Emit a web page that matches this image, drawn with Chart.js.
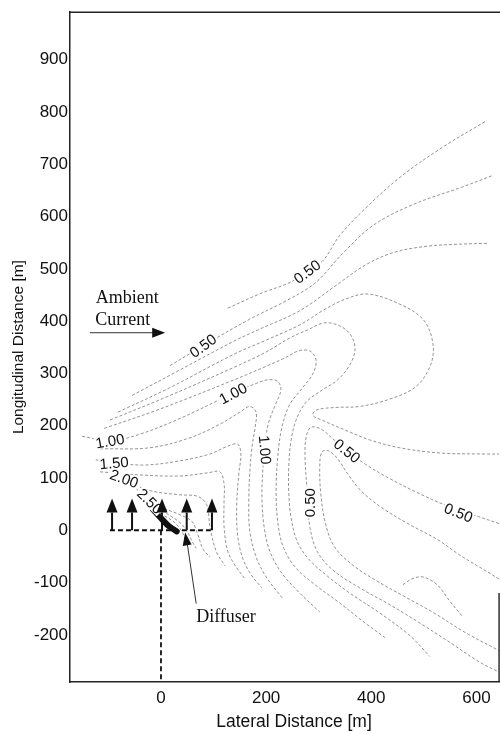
<!DOCTYPE html>
<html>
<head>
<meta charset="utf-8">
<script src="https://cdn.jsdelivr.net/npm/chart.js@4.4.0/dist/chart.umd.min.js"></script>
<style>
  html, body { margin: 0; padding: 0; background: #fff; }
  #wrap { width: 500px; height: 734px; overflow: hidden; }
</style>
</head>
<body>
<div id="wrap"><canvas id="chart" width="520" height="734"></canvas></div>
<script>
// tick labels
const xTicks = [0, 200, 400, 600];
const yTicks = [-200, -100, 0, 100, 200, 300, 400, 500, 600, 700, 800, 900];

// contour lines, [lateral m, longitudinal m]
const c01 = [[127,425],[192,454],[249,476],[306,514],[340,564],[392,619],[458,678],[536,733],[620,784]];
const c02 = [[17,315],[80,353],[169,404],[236,438],[293,473],[346,530],[403,583],[479,623],[574,657],[629,678]];
const c03 = [[-55,258],[27,302],[137,361],[188,385],[264,420],[331,467],[388,507],[441,531],[502,543],[559,547],[620,549]];
const c04 = [[-82,226],[17,273],[137,336],[198,363],[264,393],[312,423],[350,442],[392,452],[449,435],[498,404],[517,359],[513,317],[485,275],[435,251],[378,237],[331,235],[295,230],[289,220],[306,211],[350,192],[397,173],[454,158],[530,148],[620,146],[643,146]];
const c05 = [[-97,211],[8,254],[137,311],[198,340],[245,368],[278,383],[312,397],[344,389],[363,370],[369,344],[357,313],[335,287],[306,268],[276,245],[257,211],[247,169],[243,121],[243,74],[247,27],[259,-21],[281,-55],[316,-87],[359,-120],[416,-158],[473,-201],[511,-241]];
const c06 = [[-108,195],[-2,232],[137,287],[198,313],[236,330],[264,344],[285,342],[295,325],[289,300],[268,271],[245,241],[230,197],[222,140],[219,74],[222,17],[232,-30],[255,-70],[293,-104],[340,-139],[388,-177],[426,-205]];
const c07 = [[-150,180],[-97,171],[-40,184],[36,214],[137,262],[181,281],[203,288],[222,285],[228,268],[217,239],[205,207],[198,169],[194,121],[192,65],[196,8],[207,-40],[230,-82],[264,-120],[302,-156]];
const c08 = [[-116,156],[-21,158],[55,177],[112,203],[150,226],[169,237],[181,226],[179,197],[173,159],[169,112],[167,55],[169,-2],[181,-51],[200,-89],[232,-131]];
const c09 = [[-124,135],[-89,129],[-30,125],[36,133],[93,146],[127,161],[146,165],[152,146],[148,108],[144,46],[146,-11],[156,-55],[173,-87],[192,-110]];
const c10 = [[-116,112],[-40,106],[36,104],[89,110],[112,112],[120,89],[120,55],[120,8],[127,-40],[143,-70],[160,-93]];
const c11 = [[-93,104],[-63,93],[-21,76],[36,68],[70,65],[87,49],[93,8],[105,-40],[122,-68]];
const c12 = [[-48,80],[-27,63],[2,44],[36,30],[59,17],[70,-8],[80,-36],[93,-51]];
const c13 = [[-21,55],[8,34],[36,15],[51,-4],[59,-21],[67,-34]];
const c14 = [[-2,32],[21,19],[36,4],[44,-11],[48,-23]];
const h01 = [[643,13],[593,30],[544,47],[492,70],[435,99],[388,127],[354,152],[327,175],[304,194],[285,197],[276,178],[274,140],[278,74],[283,8],[297,-40],[327,-76],[378,-110],[435,-142],[492,-177],[549,-214],[606,-252],[643,-271]];
const h02 = [[643,-93],[612,-74],[568,-47],[525,-17],[473,11],[422,42],[382,74],[355,108],[336,137],[319,152],[306,150],[302,121],[304,70],[312,17],[329,-30],[363,-65],[411,-97],[464,-127],[521,-159],[578,-195],[643,-230]];
const h03 = [[460,-104],[477,-93],[498,-89],[525,-104],[549,-135],[572,-163]];
const core = [[-15,40],[-6,30],[4,19],[15,8],[30,-2]];

// contour labels: text, position, angle (deg)
const contourLabels = [
  ['0.50', 80, 353, -36], ['0.50', 278, 495, -37], ['1.00', 137, 262, -28],
  ['1.00', 198, 154, 85], ['0.50', 283, 53, -90], ['0.50', 354, 152, 39],
  ['0.50', 566, 34, 22], ['1.00', -97, 171, -10], ['1.50', -89, 129, -5],
  ['2.00', -70, 99, 20], ['2.50', -21, 56, 45]
];

// diffuser ports
const ports = [-93, -55, 2, 49, 97];
const portHeadBase = 34;
const portTip = 61;
const manifold = [[-97, 0], [99, 0]];
const outfall = [[0, 0], [0, -290]];

const toXY = pts => pts.map(([x, y]) => ({ x, y }));

const contourSets = [c01, c02, c03, c04, c05, c06, c07, c08, c09, c10, c11, c12, c13, c14, h01, h02, h03]
  .map(pts => ({
    data: toXY(pts),
    showLine: true,
    pointRadius: 0,
    borderColor: "rgba(85,85,85,0.75)",
    borderWidth: 0.85,
    borderDash: [3, 2],
    tension: 0.35,
    fill: false,
  }));

const diffuserSets = [
  { data: toXY(core), showLine: true, pointRadius: 0, borderColor: "#111", borderWidth: 6, tension: 0.3, borderCapStyle: "round" },
  { data: toXY(manifold), showLine: true, pointRadius: 0, borderColor: "#111", borderWidth: 2, borderDash: [5, 3] },
  { data: toXY(outfall), showLine: true, pointRadius: 0, borderColor: "#111", borderWidth: 1.8, borderDash: [5, 3] },
  ...ports.map(p => ({
    data: [{ x: p, y: 0 }, { x: p, y: portHeadBase }],
    showLine: true, pointRadius: 0, borderColor: "#111", borderWidth: 2,
  })),
];

function arrowHead(ctx, tx, ty, fx, fy, len, half) {
  const a = Math.atan2(ty - fy, tx - fx);
  ctx.beginPath();
  ctx.moveTo(tx, ty);
  ctx.lineTo(tx - len * Math.cos(a) + half * Math.sin(a), ty - len * Math.sin(a) - half * Math.cos(a));
  ctx.lineTo(tx - len * Math.cos(a) - half * Math.sin(a), ty - len * Math.sin(a) + half * Math.cos(a));
  ctx.closePath();
  ctx.fill();
}

const overlay = {
  id: "overlay",
  afterDatasetsDraw(chart) {
    const { ctx, chartArea } = chart;
    const sx = chart.scales.x, sy = chart.scales.y;
    const px = v => sx.getPixelForValue(v);
    const py = v => sy.getPixelForValue(v);
    ctx.save();

    // frame
    ctx.strokeStyle = "#222";
    ctx.lineWidth = 1.6;
    ctx.beginPath();
    ctx.moveTo(chartArea.left, chartArea.top);
    ctx.lineTo(chartArea.right, chartArea.top);
    ctx.stroke();
    ctx.lineWidth = 1.4;
    ctx.beginPath();
    ctx.moveTo(px(643), py(-120));
    ctx.lineTo(px(643), chartArea.bottom);
    ctx.stroke();

    // contour labels: gaps first, then text, so labels never hide each other
    ctx.font = "15px 'Liberation Sans', Arial, sans-serif";
    ctx.textAlign = "center";
    ctx.textBaseline = "middle";
    ["bg", "text"].forEach(pass => {
      contourLabels.forEach(([t, x, y, ang]) => {
        ctx.save();
        ctx.translate(px(x), py(y));
        ctx.rotate(ang * Math.PI / 180);
        if (pass === "bg") {
          const w = ctx.measureText(t).width;
          ctx.fillStyle = "#fff";
          ctx.fillRect(-w / 2 - 1, -6, w + 2, 12);
        } else {
          ctx.fillStyle = "#111";
          ctx.fillText(t, 0, 1);
        }
        ctx.restore();
      });
    });

    // diffuser port heads
    ctx.fillStyle = "#111";
    ports.forEach(p => {
      arrowHead(ctx, px(p), py(portTip), px(p), py(0), py(portHeadBase) - py(portTip), 5.5);
    });

    // ambient current arrow
    ctx.strokeStyle = "#333";
    ctx.lineWidth = 1;
    ctx.beginPath();
    ctx.moveTo(px(-135), py(378));
    ctx.lineTo(px(0), py(378));
    ctx.stroke();
    arrowHead(ctx, px(8), py(378), px(-135), py(378), 13, 5);

    // diffuser pointer
    ctx.beginPath();
    ctx.moveTo(px(67), py(-140));
    ctx.lineTo(px(48), py(-12));
    ctx.stroke();
    arrowHead(ctx, px(46), py(-4), px(67), py(-140), 13, 4.5);

    // annotations
    ctx.font = "18px 'Liberation Serif', 'Times New Roman', serif";
    ctx.textAlign = "left";
    ctx.textBaseline = "alphabetic";
    ctx.fillStyle = "#111";
    ctx.fillText("Ambient", px(-124), py(435));
    ctx.fillText("Current", px(-125), py(393));
    ctx.fillText("Diffuser", px(67), py(-175));

    ctx.restore();
  },
};

new Chart(document.getElementById("chart"), {
  type: "scatter",
  data: { datasets: [...contourSets, ...diffuserSets] },
  options: {
    responsive: false,
    animation: false,
    devicePixelRatio: 1,
    events: [],
    layout: { padding: { top: 7, left: 0, right: 2, bottom: 0 } },
    plugins: { legend: { display: false }, tooltip: { enabled: false } },
    scales: {
      x: {
        type: "linear",
        min: -173,
        max: 679,
        afterBuildTicks: s => { s.ticks = xTicks.map(v => ({ value: v })); },
        afterFit: s => { s.height = 52; },
        grid: { display: false, drawTicks: false },
        border: { display: true, color: "#222", width: 1.5 },
        ticks: { color: "#111", padding: 6, font: { family: "'Liberation Sans', Arial", size: 17 } },
        title: {
          display: true,
          text: "Lateral Distance [m]",
          color: "#111",
          font: { family: "'Liberation Sans', Arial", size: 17.5 },
          padding: { top: 0, bottom: 1 },
        },
      },
      y: {
        type: "linear",
        min: -290,
        max: 991,
        afterBuildTicks: s => { s.ticks = yTicks.map(v => ({ value: v })); },
        afterFit: s => { s.width = 70; },
        grid: { display: false, drawTicks: false },
        border: { display: true, color: "#222", width: 1.5 },
        ticks: { color: "#111", padding: 2, font: { family: "'Liberation Sans', Arial", size: 17 } },
        title: {
          display: true,
          text: "Longitudinal Distance [m]",
          color: "#111",
          font: { family: "'Liberation Sans', Arial", size: 15.5 },
          padding: { top: 9, bottom: 0 },
        },
      },
    },
  },
  plugins: [overlay],
});
</script>
</body>
</html>
